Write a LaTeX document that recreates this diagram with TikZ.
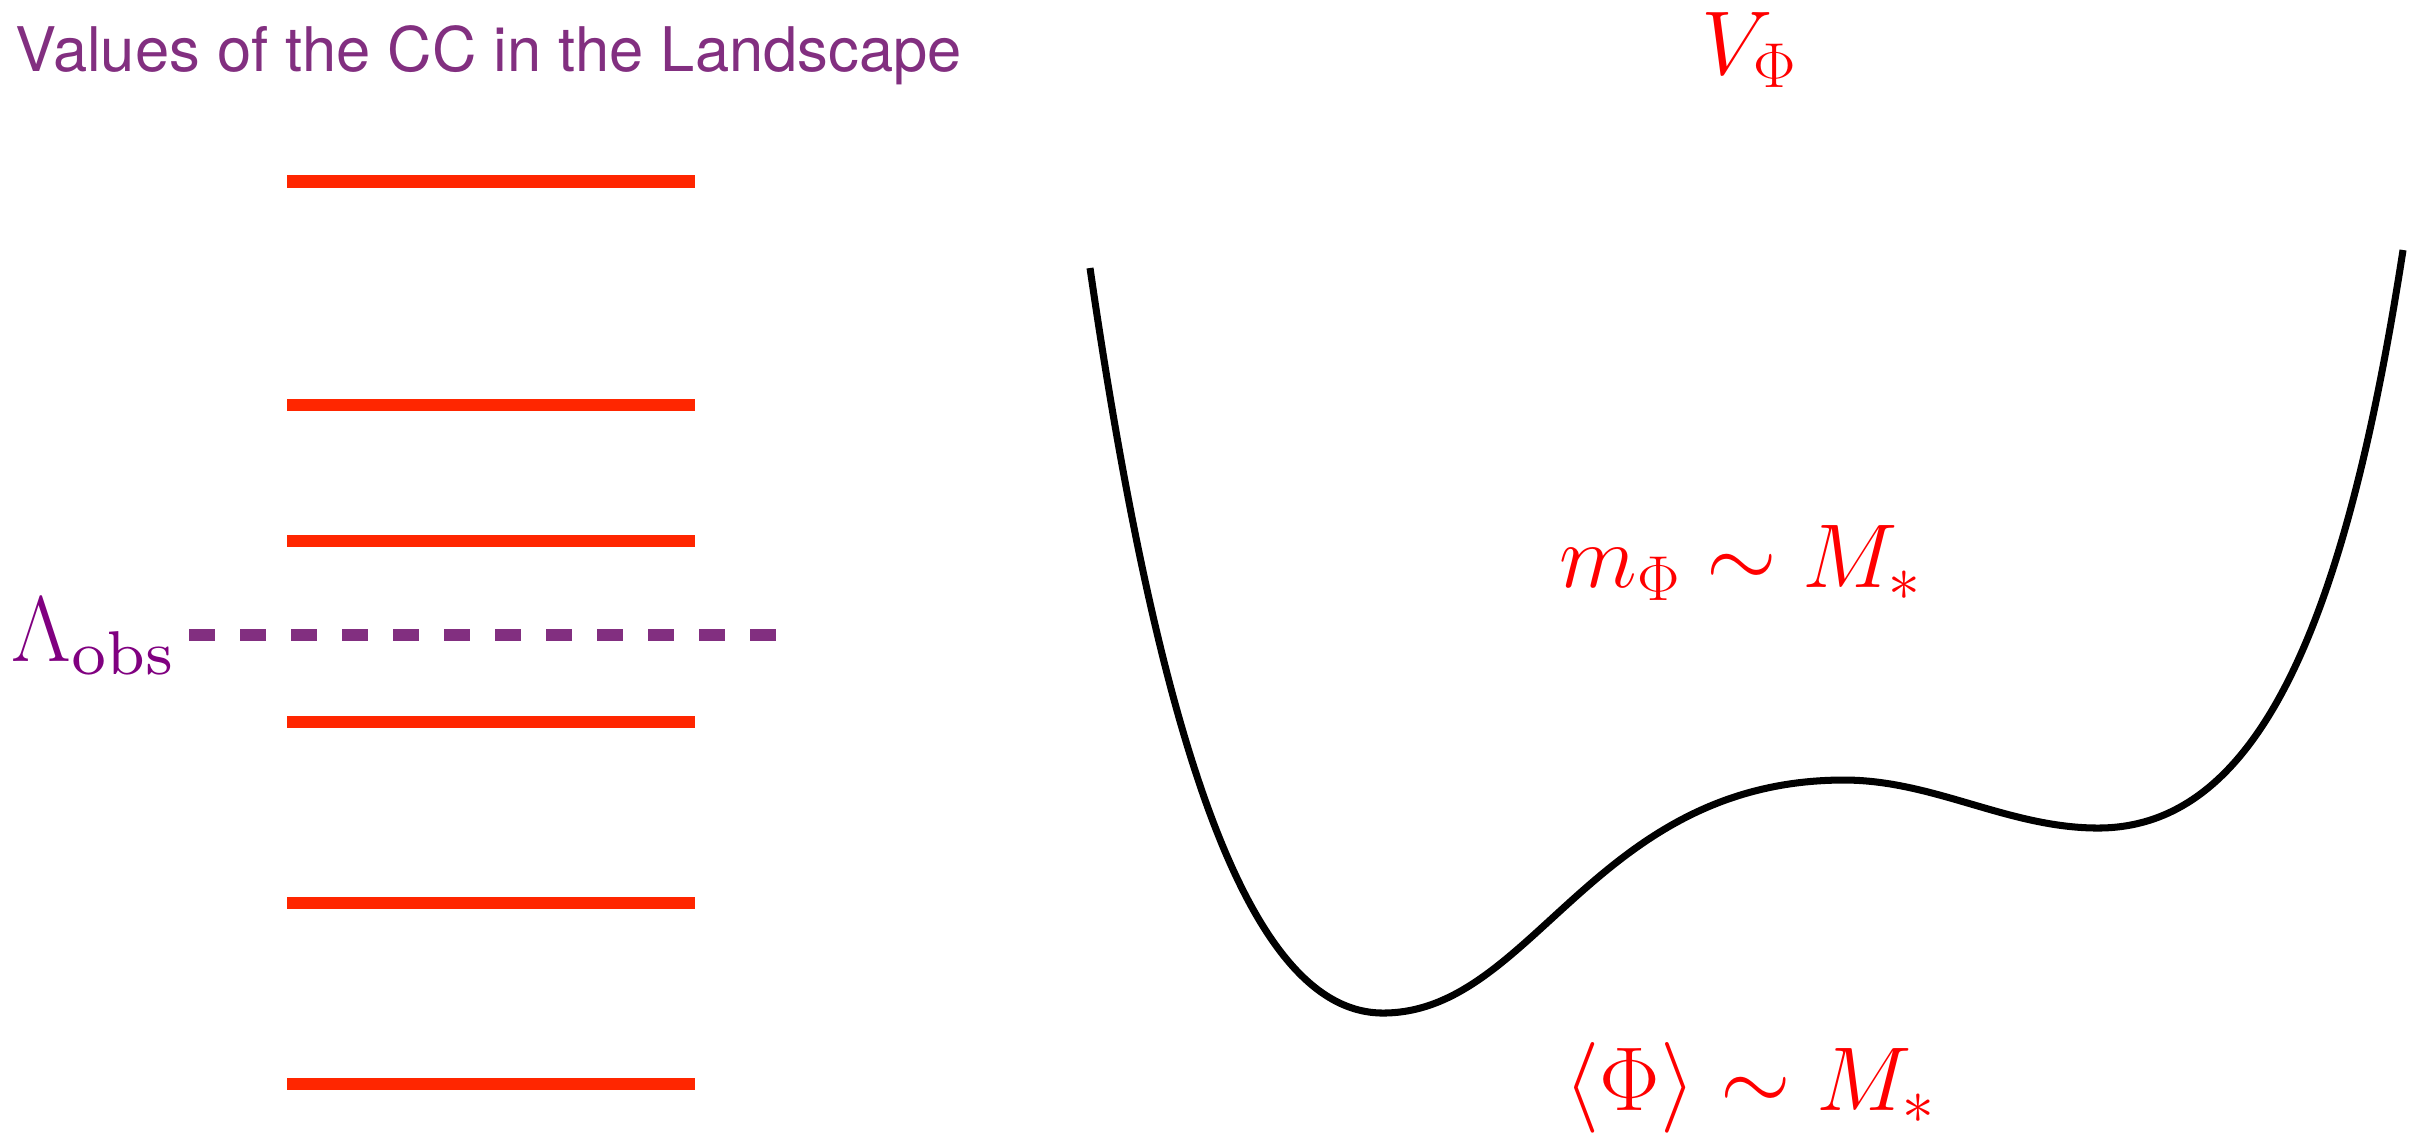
\RequirePackage{fix-cm}
\documentclass[tikz,border=0pt]{standalone}
\usepackage{fontspec}
\newfontfamily\helv{TeX Gyre Heros}
\font\obsfont=cmr7 at 17.6pt
\definecolor{levelred}{RGB}{255,38,0}
\definecolor{ccpurple}{RGB}{130,47,128}
\definecolor{lampurple}{RGB}{128,0,128}
\begin{document}
\begin{tikzpicture}[level/.style={line width=0.127cm, levelred},
    lab/.style={anchor=base west, inner sep=0, text=red, font=\fontsize{25.8}{30}\selectfont}]
    \useasboundingbox (0,0) rectangle (24.26,-11.33);

    \node[anchor=base west, inner sep=0, text=ccpurple, font=\helv\fontsize{17.5}{21}\selectfont] (title) at (0.15,-0.71) {Values of the CC in the Landscape};

    % vacua
    \foreach \y in {1.817, 4.05, 5.41, 7.22, 9.03, 10.84}
        \draw[level] (2.87,-\y) -- (6.95,-\y);

    \node[anchor=base west, inner sep=0, text=lampurple, font=\fontsize{26.5}{31}\selectfont] (lam) at (0.11,-6.61) {$\Lambda_{\mbox{\obsfont obs}}$};
    \coordinate (obsend) at (7.76,-6.35);
    \draw[ccpurple, line width=0.123cm, dash pattern=on 0.256cm off 0.254cm] (1.893,-6.35) -- (obsend);

    % potential
    \draw[line width=2pt] (10.90,-2.68) .. controls (11.60,-7.50) and (12.50,-10.13) .. (13.83,-10.13)
        .. controls (15.33,-10.13) and (15.94,-7.80) .. (18.44,-7.80)
        .. controls (19.34,-7.80) and (20.08,-8.28) .. (20.98,-8.28)
        .. controls (22.58,-8.28) and (23.45,-6.25) .. (24.03,-2.50);

    \node[lab] (vphi) at (17.01,-0.74) {$V_\Phi$};
    \node[lab] (mass) at (15.59,-5.87) {$m_\Phi\sim M_*$};
    \node[lab] (vev) at (15.64,-11.10) {$\langle\Phi\rangle\sim M_*$};
\end{tikzpicture}
\end{document}
